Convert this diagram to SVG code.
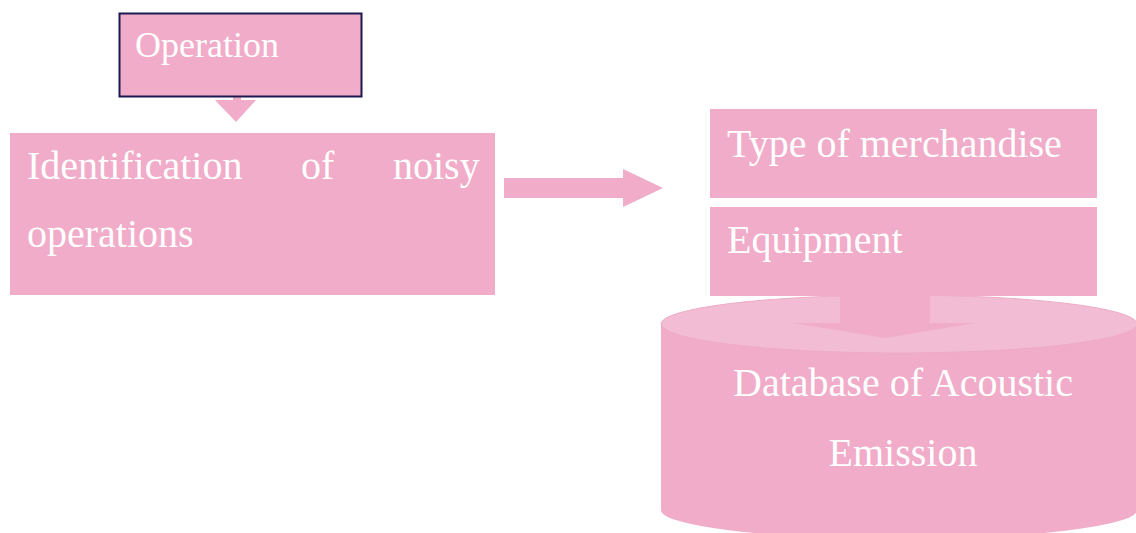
<svg xmlns="http://www.w3.org/2000/svg" width="1136" height="533" viewBox="0 0 1136 533">
  <style>
    .box { fill: #f0acc8; }
    .lbl { font-family: "Liberation Serif", "Times New Roman", serif; fill: #ffffff; font-size: 40px; }
    .arrow { fill: #f0acc8; }
  </style>
  <rect width="1136" height="533" fill="#ffffff"/>

  <!-- database cylinder -->
  <g id="database">
    <path class="box" d="M661,324 L661,510 A238,29 0 0 0 1137,510 L1137,324 Z"/>
    <ellipse cx="899" cy="324" rx="238" ry="29" fill="#f2bcd4" stroke="#eeaac6" stroke-width="1"/>
  </g>

  <g id="connectors">
    <!-- Operation -> Identification -->
    <polygon class="arrow" points="233,96 241,96 241,100 256,100 236,122 215,100 233,100"/>
    <!-- Identification -> Type / Equipment -->
    <polygon class="arrow" points="504,178 623,178 623,169 663,188 623,207 623,198 504,198"/>
    <!-- Equipment -> Database -->
    <polygon class="arrow" points="840,296 930,296 930,323 975,323 885,338 793,323 840,323"/>
  </g>

  <g id="operation">
    <rect x="119.5" y="13.5" width="242" height="83" fill="#f0acc8" stroke="#1c1850" stroke-width="2"/>
    <text class="lbl" x="135" y="57" style="font-size:36px">Operation</text>
  </g>

  <g id="identification">
    <rect class="box" x="10" y="133" width="485" height="162"/>
    <text class="lbl" x="27" y="179">Identification</text>
    <text class="lbl" x="301" y="179">of</text>
    <text class="lbl" x="393" y="179">noisy</text>
    <text class="lbl" x="27" y="247">operations</text>
  </g>

  <g id="merchandise">
    <rect class="box" x="710" y="109" width="387" height="89"/>
    <text class="lbl" x="727" y="157">Type of merchandise</text>
  </g>

  <g id="equipment">
    <rect class="box" x="710" y="207" width="387" height="89"/>
    <text class="lbl" x="727" y="253">Equipment</text>
  </g>

  <g id="database-label">
    <text class="lbl" x="903" y="396" text-anchor="middle">Database of Acoustic</text>
    <text class="lbl" x="903" y="466" text-anchor="middle">Emission</text>
  </g>
</svg>
